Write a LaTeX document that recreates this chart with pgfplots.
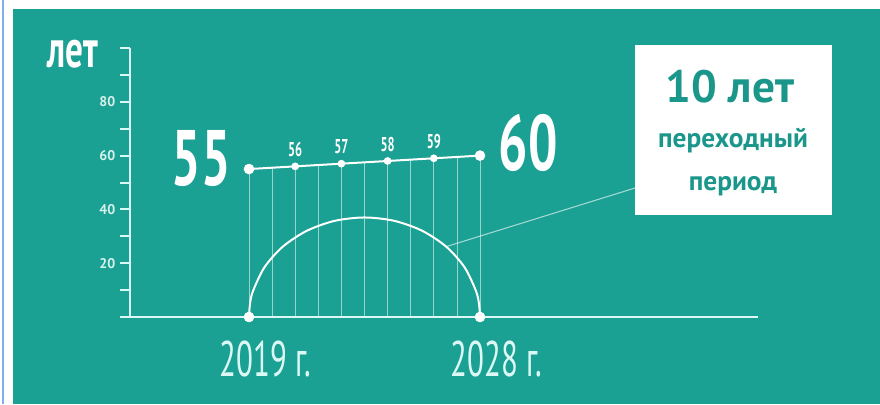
\documentclass[border=0pt]{standalone}
\usepackage{pgfplots}
\pgfplotsset{compat=1.18}
\usepackage{fontspec}
\setmainfont{PT Sans}
\newfontfamily\cond[FakeStretch=0.62]{PT Sans}
\newfontfamily\condbig[FakeStretch=0.66]{PT Sans}
\definecolor{bg}{RGB}{27,160,148}
\definecolor{boxtext}{RGB}{26,150,138}
\definecolor{axln}{RGB}{220,248,244}
\definecolor{ticklab}{RGB}{215,242,236}
\definecolor{edge}{RGB}{130,175,235}

\begin{document}
\begin{tikzpicture}
\begin{scope}[x=0.75pt,y=-0.75pt]
\useasboundingbox (0,0) rectangle (880,404);
\fill[white] (0,0) rectangle (880,404);
\fill[bg] (13,9) rectangle (880,404);
\draw[edge, line width=1.2pt] (3,0) -- (3,404);
\end{scope}

\begin{axis}[
  at={(97.5pt,-237.75pt)}, anchor=south west,
  scale only axis, width=471pt, height=201.75pt,
  xmin=2014.364, xmax=2038.831, ymin=0, ymax=100,
  /pgf/number format/assume math mode=true,
  axis lines=left,
  axis line style={-, axln, line width=1.5pt},
  ytick={20,40,60,80},
  minor ytick={0,10,30,50,70,90,100},
  tick align=outside,
  major tick length=7.5pt, minor tick length=7.5pt,
  ytick style={axln, line width=1.5pt},
  minor tick style={axln, line width=1.5pt},
  yticklabel style={font=\fontsize{10.5}{10.5}\selectfont\bfseries, text=ticklab},
  xtick={2019,2028},
  xticklabels={2019 г.,2028 г.},
  xtick style={draw=none},
  xticklabel style={font=\cond\fontsize{37.5}{37.5}\selectfont, text=axln, anchor=base west, inner sep=0pt, yshift=-37pt, xshift=-22pt},
  clip=false,
]
% vertical guide lines
\addplot[ycomb, white, opacity=0.55, line width=0.6pt, no marks] coordinates {
  (2019,55) (2019.9,55.5) (2020.8,56) (2021.7,56.5) (2022.6,57) (2023.5,57.5)
  (2024.4,58) (2025.3,58.5) (2026.2,59) (2027.1,59.5) (2028,60)};
% transition arc
\addplot[white, line width=1.5pt, smooth, no marks] coordinates {
  (2019,0) (2019.038,4.83) (2019.153,9.58) (2019.603,18.5) (2020.318,26.16)
  (2021.25,32.04) (2022.335,35.74) (2023.5,37) (2024.665,35.74) (2025.75,32.04)
  (2026.682,26.16) (2027.397,18.5) (2027.847,9.58) (2027.962,4.83) (2028,0)};
% connector to box
\draw[white, opacity=0.6, line width=0.8pt] (axis cs:2026.682,26.16) -- (axis cs:2034.04,47.96);
% retirement age line
\addplot[white, line width=1.5pt, mark=*, mark size=2.1pt, mark options={fill=white}] coordinates {
  (2019,55) (2020.8,56) (2022.6,57) (2024.4,58) (2026.2,59) (2028,60)};
% labels 56..59
\addplot[only marks, mark=none, white, point meta=y,
  nodes near coords,
  every node near coord/.append style={font=\cond\fontsize{15}{15}\selectfont\bfseries, text=white, anchor=south, inner sep=0pt, yshift=7pt}]
  coordinates {(2020.8,56) (2022.6,57) (2024.4,58) (2026.2,59)};
% big end points
\addplot[only marks, mark=*, mark size=3.75pt, white, mark options={fill=white}] coordinates {
  (2019,55) (2028,60) (2019,0) (2028,0)};
\end{axis}

\begin{scope}[x=0.75pt,y=-0.75pt]
\node[anchor=base, inner sep=0pt, text=white] at (72.5,67) {\condbig\fontsize{40}{40}\selectfont\bfseries лет};
\node[anchor=base, inner sep=0pt, text=white] at (201,185) {\condbig\fontsize{59}{59}\selectfont\bfseries 55};
\node[anchor=base, inner sep=0pt, text=white] at (528,170) {\condbig\fontsize{59}{59}\selectfont\bfseries 60};
\fill[white] (635,45) rectangle (832,215);
\node[anchor=base, inner sep=0pt, text=boxtext] at (730,102) {\fontsize{34}{34}\selectfont\bfseries 10 лет};
\node[anchor=base, inner sep=0pt, text=boxtext] at (733,147) {\fontsize{20.5}{20.5}\selectfont\bfseries переходный};
\node[anchor=base, inner sep=0pt, text=boxtext] at (733,190) {\fontsize{20.5}{20.5}\selectfont\bfseries период};
\end{scope}
\end{tikzpicture}
\end{document}
